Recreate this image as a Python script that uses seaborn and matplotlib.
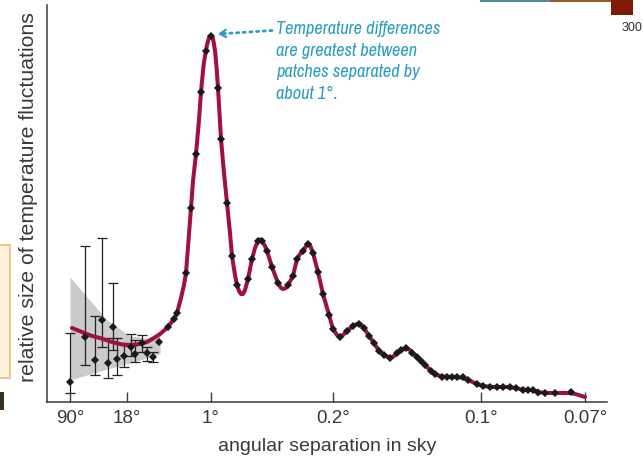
import matplotlib
matplotlib.use("Agg")
import matplotlib.pyplot as plt
import seaborn as sns
import pandas as pd
from matplotlib.patches import Rectangle
from matplotlib import font_manager as fm

# ---- data (x = position along the angular axis, y = relative fluctuation size) ----
tick_pos = [23, 80, 164, 286, 434, 538]
tick_labels = ["90°", "18°", "1°", "0.2°", "0.1°", "0.07°"]

curve_x = [25, 35, 45, 53, 65, 75, 80, 90, 100, 107, 113, 120, 127, 130, 134, 137, 139, 141, 142,
           144, 146, 149, 152, 154, 156, 157, 159, 160, 161, 162, 163, 164, 165, 166, 167, 168,
           169, 170, 171, 174, 177, 180, 183, 185, 188, 190, 192, 194, 196, 198, 201, 205, 208,
           211, 213, 215, 218, 220, 225, 231, 234, 236, 239, 241, 246, 250, 253, 256, 259, 261,
           263, 266, 271, 276, 282, 286, 290, 293, 296, 300, 306, 310, 313, 317, 322, 327, 332,
           337, 343, 347, 350, 354, 359, 363, 366, 370, 378, 384, 388, 393, 400, 410, 416, 421,
           430, 436, 445, 460, 469, 476, 486, 491, 498, 510, 524, 530, 538]
curve_y = [75, 71, 67, 65, 61, 58.5, 58, 58.5, 61, 65, 69, 75, 84, 90, 105, 118, 130, 156, 169,
           195, 222, 249, 283, 311, 332, 341, 352, 358, 362, 365, 366.5, 367, 366.5, 364, 359, 352,
           342, 330, 315, 264, 230, 200, 170, 147, 128, 118, 112, 109, 109, 113, 124, 144, 155,
           162, 163.5, 162, 157, 152, 136, 120, 115, 114, 115, 118, 127, 144, 149, 152, 157, 159,
           158, 150, 131, 109, 88, 74, 68, 66, 68, 72, 77, 79, 79, 75, 67, 60, 52,
           48, 45, 47, 50, 53, 55, 53, 50, 46, 38, 32, 29, 27, 26, 26, 25, 23,
           19, 17, 16, 16, 15, 13, 13, 11, 10, 10, 10, 8.5, 6]

err_x = [23, 38, 48, 55, 61, 66, 70, 77, 84, 88, 95, 100, 106]
err_y = [21, 66, 43, 83, 40, 76, 44, 47, 56, 49, 60, 50, 46]
err_lo = [10, 38, 28, 56, 25, 53, 28, 36, 47, 41, 51, 42, 41]
err_hi = [70, 157, 87, 165, 65, 120, 65, 60, 69, 63, 68, 56, 51]

pt_x = [112, 121, 127, 130, 139, 144, 149, 154, 159, 164, 171, 174, 180, 185, 190, 201, 205, 211,
        215, 220, 225, 231, 241, 246, 250, 256, 261, 266, 271, 276, 282, 286, 293, 300, 306, 312,
        317, 322, 327, 332, 337, 343, 350, 354, 359, 365, 370, 374, 378, 384, 388, 395, 400, 405,
        410, 416, 421, 430, 436, 443, 450, 456, 463, 469, 476, 481, 486, 491, 498, 508, 524]
pt_y = [61, 76, 84, 90, 130, 195, 249, 311, 352, 367, 315, 264, 200, 147, 118, 124, 144, 162,
        162, 152, 136, 120, 118, 127, 144, 152, 159, 150, 131, 109, 88, 74, 66, 72, 77, 79,
        75, 67, 60, 52, 48, 45, 50, 53, 55, 50, 46, 42, 38, 32, 29, 26, 26, 26,
        26, 26, 23, 19, 17, 16, 16, 16, 16, 15, 13, 13, 13, 10.5, 10, 10, 11]

band_x = [23, 40, 60, 83, 100, 113]
band_lo = [23, 28, 34, 40, 45, 49]
band_hi = [126, 106, 83, 67, 65, 69]

curve_df = pd.DataFrame({"x": curve_x, "y": curve_y})
pts_df = pd.DataFrame({"x": err_x + pt_x, "y": err_y + pt_y})

# ---- style ----
sns.set_theme(style="white")
plt.rcParams["font.family"] = ["Liberation Sans", "DejaVu Sans"]
text_col = "#3a3a3a"
curve_col = "#a0113c"
blue = "#2b9cc4"

# find a narrow/condensed face (by family name) for the callout, if one is installed
best = None
for f in fm.fontManager.ttflist:
    nm = f.name.lower()
    if "narrow" in nm or "condensed" in nm:
        score = (2 if f.style in ("italic", "oblique") else 0) + (1 if f.weight in (400, "normal", "regular") else 0)
        if best is None or score > best[0]:
            best = (score, f)

fig = plt.figure(figsize=(6.43, 4.63), dpi=100)
ax = fig.add_axes([47 / 643, 61 / 463, 560 / 643, 397 / 463])

ax.fill_between(band_x, band_lo, band_hi, color="#cbcbcb", lw=0, zorder=1)
ax.errorbar(err_x, err_y,
            yerr=[[y - lo for y, lo in zip(err_y, err_lo)], [hi - y for y, hi in zip(err_y, err_hi)]],
            fmt="none", ecolor="#222222", elinewidth=0.9, capsize=3.3, capthick=0.9, zorder=2)
sns.lineplot(data=curve_df, x="x", y="y", ax=ax, color=curve_col, lw=2.9, sort=False, zorder=3)
sns.scatterplot(data=pts_df, x="x", y="y", ax=ax, marker="D", s=17, color="#1a1a1a",
                edgecolor="none", zorder=4)

ax.set_xlim(0, 560)
ax.set_ylim(1, 398)
ax.set_xticks(tick_pos)
ax.set_xticklabels(tick_labels)
ax.set_yticks([])
ax.tick_params(axis="x", direction="in", length=7, width=1.0, color=text_col,
               labelsize=13.5, labelcolor=text_col, pad=6, bottom=True)
for s in ["top", "right"]:
    ax.spines[s].set_visible(False)
for s in ["left", "bottom"]:
    ax.spines[s].set_color(text_col)
    ax.spines[s].set_linewidth(1.1)

ax.set_xlabel("angular separation in sky", fontsize=14, color=text_col, labelpad=8)
ax.set_ylabel("relative size of temperature fluctuations", fontsize=15.3, color=text_col)
ax.yaxis.set_label_coords(-0.016, 0.515)

# annotation
ax.annotate("", xy=(171, 369), xytext=(225, 372.5),
            arrowprops=dict(arrowstyle="-", color=blue, lw=2.0, linestyle=(0, (0.8, 1.6)),
                            shrinkA=0, shrinkB=3))
ax.annotate("", xy=(171, 369), xytext=(178, 369.5),
            arrowprops=dict(arrowstyle="->,head_length=0.35,head_width=0.22", color=blue, lw=1.6,
                            shrinkA=0, shrinkB=0))
callout = "Temperature differences\nare greatest between\npatches separated by\nabout 1°."
if best is not None:
    fp = fm.FontProperties(fname=best[1].fname, size=13.2)
    ax.text(229, 382, callout, ha="left", va="top", color=blue, linespacing=1.43,
            fontproperties=fp)
else:
    ax.text(229, 381, callout, ha="left", va="top", fontsize=11.2, color=blue, style="italic",
            linespacing=1.6)

# slide artifacts
fig.text(632 / 643, 1 - 28 / 463, "300", ha="center", va="center", fontsize=9, color="#333333")
fig.patches.append(Rectangle((611 / 643, 1 - 15 / 463), 22 / 643, 15 / 463,
                             transform=fig.transFigure, facecolor="#7e1a06", edgecolor="none"))
fig.patches.append(Rectangle((480 / 643, 1 - 1.5 / 463), 70 / 643, 1.5 / 463,
                             transform=fig.transFigure, facecolor="#4f8a96", edgecolor="none"))
fig.patches.append(Rectangle((550 / 643, 1 - 1.5 / 463), 61 / 643, 1.5 / 463,
                             transform=fig.transFigure, facecolor="#9a5a1c", edgecolor="none"))
fig.patches.append(Rectangle((-2 / 643, 1 - 378 / 463), 12 / 643, 133 / 463,
                             transform=fig.transFigure, facecolor="#fdf2dc", edgecolor="#e6c27e", lw=1.2))
fig.patches.append(Rectangle((0, 1 - 410 / 463), 4 / 643, 18 / 463,
                             transform=fig.transFigure, facecolor="#3a3020", edgecolor="none"))

fig.savefig("out.png", dpi=100)
